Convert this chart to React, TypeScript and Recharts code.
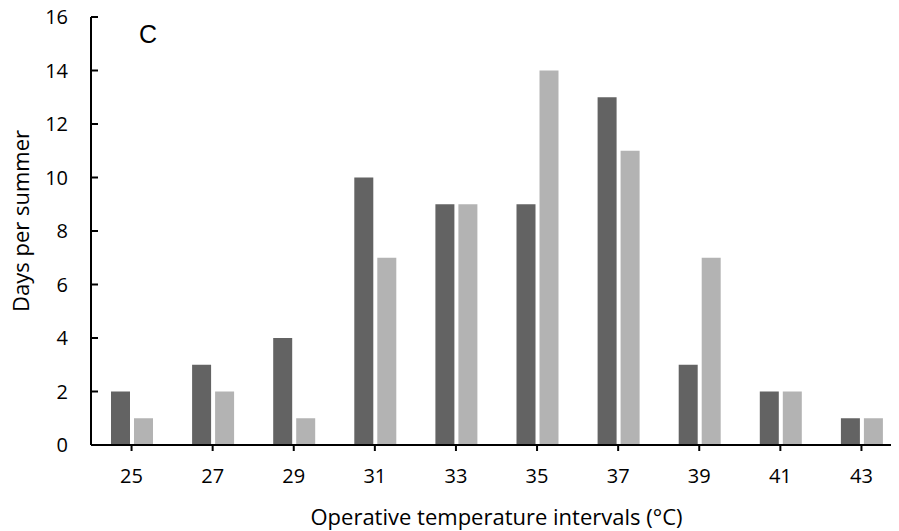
import { BarChart, Bar, XAxis, YAxis } from 'recharts'

const categories = ['25', '27', '29', '31', '33', '35', '37', '39', '41', '43']
const darkValues = [2, 3, 4, 10, 9, 9, 13, 3, 2, 1]
const lightValues = [1, 2, 1, 7, 9, 14, 11, 7, 2, 1]
const yTicks = [0, 2, 4, 6, 8, 10, 12, 14, 16]

const data = categories.map((c, i) => ({ name: c, dark: darkValues[i], light: lightValues[i] }))

const FONT = '"Open Sans", sans-serif'

// rotated y label, nudged a little up like the original
const YLabel = (props: any) => {
  const vb = props.viewBox || {}
  const x = vb.x + 29
  const y = vb.y + vb.height / 2 - 10
  return (
    <text x={x} y={y} transform={`rotate(-90, ${x}, ${y})`} textAnchor="middle" fill="#000" fontSize={22} fontFamily={FONT}>
      Days per summer
    </text>
  )
}

export default function App() {
  return (
    <div style={{ position: 'relative', width: 899, height: 531, margin: '-8px 0 0 -8px', overflow: 'hidden', background: '#fff' }}>
      <BarChart
        width={902}
        height={531}
        data={data}
        margin={{ top: 17, right: 0, bottom: 0, left: 0 }}
        barSize={19}
        barGap={4}
      >
        <XAxis
          dataKey="name"
          stroke="#000"
          strokeWidth={2}
          tickSize={6}
          tickMargin={18}
          height={86}
          tick={{ fill: '#000', fontSize: 20, fontFamily: FONT }}
          label={{ value: 'Operative temperature intervals (°C)', position: 'insideBottom', offset: 6, fill: '#000', fontSize: 22, fontFamily: FONT }}
        />
        <YAxis
          domain={[0, 16]}
          ticks={yTicks}
          interval={0}
          width={91}
          stroke="#000"
          strokeWidth={2}
          tickSize={-7}
          tickMargin={30}
          tick={{ fill: '#000', fontSize: 20, fontFamily: FONT }}
          label={<YLabel />}
        />
        <Bar dataKey="dark" fill="#636363" isAnimationActive={false} />
        <Bar dataKey="light" fill="#b3b3b3" isAnimationActive={false} />
      </BarChart>
      <div style={{ position: 'absolute', left: 139, top: 22, fontFamily: '"Liberation Sans", Arial, sans-serif', fontSize: 25, lineHeight: '25px', color: '#000' }}>
        C
      </div>
    </div>
  )
}
